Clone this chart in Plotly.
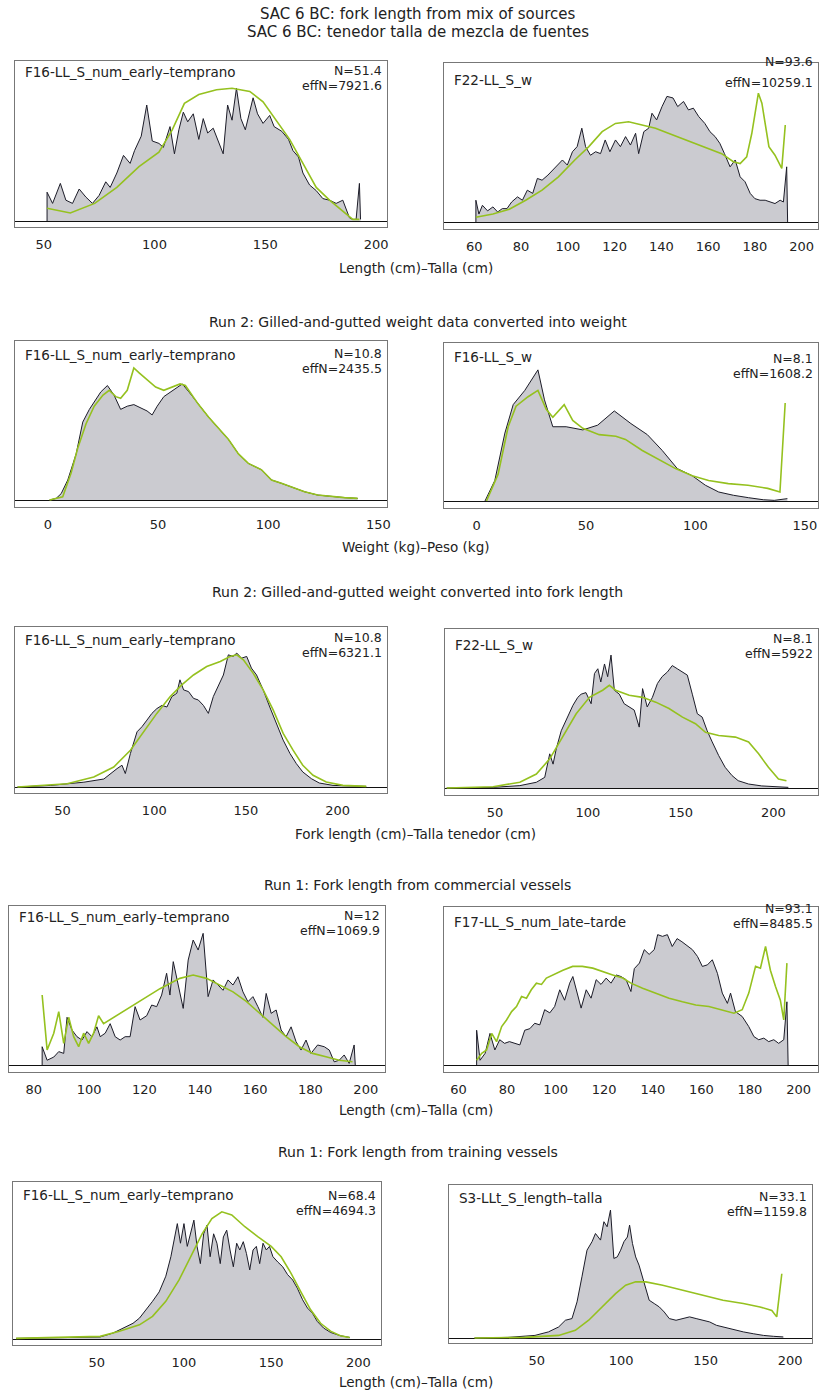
import plotly.graph_objects as go

# ---------------- DATA ----------------
# Panel 1: SAC 6 BC, F16-LL_S_num_early-temprano (length, cm)
p1_obs_x = [51.5, 51.5, 54, 57.5, 60, 63, 66, 69, 72, 75, 78, 80, 83, 86, 89, 91, 94, 96.5, 99, 102, 104, 107, 109, 111, 113, 115,
            117.5, 120, 122, 124, 126.5, 129, 131, 133, 135, 137, 139, 141, 144.5, 146.5, 149, 152, 154, 157.5, 160.5, 162.5,
            165, 167, 170, 173, 176, 179, 182, 185, 186.5, 188, 189.5, 191, 192.5, 193]
p1_obs_y = [0, 0.18, 0.11, 0.235, 0.13, 0.11, 0.20, 0.15, 0.11, 0.16, 0.245, 0.21, 0.30, 0.41, 0.36, 0.44, 0.53, 0.725, 0.50, 0.485,
            0.46, 0.59, 0.42, 0.57, 0.68, 0.62, 0.67, 0.51, 0.64, 0.55, 0.58, 0.485, 0.42, 0.725, 0.63, 0.83, 0.64, 0.57, 0.77,
            0.67, 0.61, 0.66, 0.59, 0.56, 0.51, 0.44, 0.40, 0.30, 0.225, 0.19, 0.14, 0.13, 0.11, 0.13, 0.07, 0.02, 0.01, 0.01,
            0.235, 0.01]
p1_exp_x = [51.5, 55, 62, 73, 83, 93, 102, 108, 113.5, 120, 128, 135, 143, 149, 155, 161, 167, 173, 179, 185, 189.5, 192.5]
p1_exp_y = [0.08, 0.07, 0.05, 0.11, 0.21, 0.34, 0.43, 0.57, 0.735, 0.79, 0.82, 0.83, 0.81, 0.745, 0.63, 0.51, 0.36, 0.21, 0.13,
            0.06, 0.01, 0.01]

# Panel 2: SAC 6 BC, F22-LL_S_w
p2_obs_x = [60.7, 60.7, 62, 63.5, 65.7, 68, 70, 72, 74, 76, 78.5, 80.6, 82.7, 85, 87, 89, 91.5, 93.4, 95.5, 97.7, 99.8, 102, 104,
            106, 107.6, 109.7, 111.9, 114, 116, 118, 120.4, 122.5, 124.7, 126.8, 129, 130.3, 132.5, 134.6, 136, 138, 140.3,
            142.4, 145, 147, 149.5, 151.6, 153.7, 156, 158.6, 160.8, 163, 165, 167, 169.4, 171.6, 173.7, 175.8, 178, 180,
            182.2, 184.4, 186.5, 188.6, 190.8, 192.2, 193.6, 194]
p2_obs_y = [0, 0.137, 0.05, 0.105, 0.07, 0.095, 0.063, 0.084, 0.084, 0.126, 0.158, 0.137, 0.2, 0.18, 0.274, 0.263, 0.295, 0.326,
            0.358, 0.39, 0.358, 0.442, 0.474, 0.59, 0.474, 0.42, 0.442, 0.43, 0.516, 0.442, 0.516, 0.474, 0.537, 0.484, 0.558,
            0.43, 0.568, 0.59, 0.684, 0.642, 0.726, 0.79, 0.78, 0.726, 0.758, 0.705, 0.716, 0.663, 0.62, 0.568, 0.537, 0.495,
            0.43, 0.347, 0.39, 0.284, 0.253, 0.18, 0.147, 0.137, 0.137, 0.126, 0.116, 0.137, 0.126, 0.347, 0]
p2_exp_x = [60.7, 68, 75, 82, 89, 96, 103, 109, 114.7, 120.4, 126, 132, 137.5, 143, 148.8, 154.5, 160, 165.8, 170.8, 173.7,
            176.5, 178.7, 181.5, 183, 186, 188.6, 191.5, 193]
p2_exp_y = [0.03, 0.05, 0.08, 0.137, 0.2, 0.284, 0.39, 0.474, 0.568, 0.62, 0.63, 0.61, 0.59, 0.558, 0.526, 0.495, 0.463, 0.43,
            0.379, 0.368, 0.41, 0.558, 0.81, 0.747, 0.474, 0.42, 0.337, 0.61]

# Panel 3: Run 2 weight, F16-LL_S_num_early-temprano (kg)
p3_obs_x = [0.7, 3.7, 6, 9, 12.8, 15.8, 18.8, 21.8, 24, 27, 30, 33, 36, 39, 42, 45, 47.3, 49.6, 52.6, 55.6, 58.6, 61, 64, 68.4,
            73, 77.5, 82, 86.5, 91, 97, 101.5, 106, 110.5, 116.5, 122.5, 128.6, 134.6, 140.6]
p3_obs_y = [0, 0.01, 0.04, 0.126, 0.29, 0.49, 0.57, 0.63, 0.68, 0.72, 0.66, 0.57, 0.59, 0.60, 0.58, 0.56, 0.535, 0.59, 0.65,
            0.68, 0.71, 0.73, 0.68, 0.60, 0.52, 0.45, 0.38, 0.29, 0.23, 0.19, 0.126, 0.105, 0.084, 0.052, 0.031, 0.021, 0.015,
            0.01]
p3_exp_x = [0.7, 6.7, 10.5, 13.5, 17.3, 21, 25, 27.8, 30.8, 33, 36, 39, 41.4, 45, 48.9, 52.6, 56.4, 60, 62.4, 68.4, 73, 77.5,
            82, 86.5, 91, 97, 101.5, 106, 110.5, 116.5, 122.5, 128.6, 134.6, 140.6]
p3_exp_y = [0, 0.02, 0.17, 0.325, 0.48, 0.59, 0.66, 0.69, 0.65, 0.64, 0.69, 0.83, 0.80, 0.755, 0.71, 0.69, 0.71, 0.73, 0.72,
            0.60, 0.52, 0.45, 0.38, 0.29, 0.23, 0.19, 0.126, 0.105, 0.084, 0.052, 0.031, 0.021, 0.015, 0.01]

# Panel 4: Run 2 weight, F16-LL_S_w
p4_obs_x = [3.8, 8.3, 12.9, 16.7, 22, 28, 31, 34.8, 40.9, 48.5, 55.3, 62.9, 70.5, 78, 84.8, 91.7, 98.5, 104.5, 110.6, 117.4,
            124.2, 131, 136, 142]
p4_obs_y = [0, 0.13, 0.43, 0.61, 0.70, 0.83, 0.64, 0.47, 0.47, 0.45, 0.48, 0.57, 0.49, 0.42, 0.32, 0.205, 0.16, 0.10, 0.057,
            0.036, 0.021, 0.008, 0.004, 0.015]
p4_exp_x = [4.5, 9.8, 14.4, 18, 23.5, 28, 31.8, 34.8, 40, 43.9, 48.5, 56, 63.6, 68, 75.7, 83.3, 90.9, 98.5, 106, 115, 124, 133,
            138.6, 141]
p4_exp_y = [0, 0.17, 0.47, 0.60, 0.66, 0.70, 0.58, 0.53, 0.61, 0.51, 0.46, 0.42, 0.41, 0.39, 0.32, 0.26, 0.205, 0.16, 0.13,
            0.11, 0.10, 0.08, 0.057, 0.62]

# Panel 5: Run 2 fork length, F16-LL_S_num_early-temprano
p5_obs_x = [25.4, 43.5, 61.6, 72.5, 79.7, 82.4, 84.2, 87, 90.6, 93.3, 96, 98.7, 101.4, 104.2, 106.9, 109.6, 112.3, 114, 116,
            118.7, 121.4, 124, 126.8, 129.5, 132.2, 135, 137.7, 140.4, 143, 145, 147.6, 150.4, 153, 155.8, 159.4, 163, 166.7,
            170.3, 174, 177.5, 181, 185.7, 190, 197.5, 215.6]
p5_obs_y = [0, 0.01, 0.03, 0.05, 0.115, 0.136, 0.084, 0.21, 0.345, 0.377, 0.418, 0.46, 0.49, 0.51, 0.50, 0.565, 0.586, 0.67,
            0.607, 0.596, 0.554, 0.544, 0.51, 0.46, 0.565, 0.63, 0.70, 0.826, 0.816, 0.837, 0.805, 0.816, 0.743, 0.70, 0.607,
            0.50, 0.397, 0.293, 0.21, 0.146, 0.094, 0.052, 0.025, 0.01, 0.004]
p5_exp_x = [25.4, 52.5, 67, 77.9, 87, 94.2, 101.4, 108.7, 115, 121.4, 128.6, 136, 141.3, 145, 148.6, 154, 159.4, 164.9, 170.3,
            175.7, 181, 186.6, 193.8, 202.9, 215.6]
p5_exp_y = [0, 0.02, 0.063, 0.125, 0.23, 0.345, 0.46, 0.565, 0.638, 0.70, 0.753, 0.785, 0.816, 0.826, 0.795, 0.71, 0.607, 0.48,
            0.335, 0.23, 0.136, 0.073, 0.031, 0.01, 0.004]

# Panel 6: Run 2 fork length, F22-LL_S_w
p6_obs_x = [24, 49, 63.4, 72.3, 76.8, 79.5, 81.3, 83, 85.7, 89.3, 92, 94.6, 96.4, 99, 101.8, 103.6, 105.4, 107, 109, 110.7,
            112.5, 114.3, 117, 119.6, 122.3, 125, 127.7, 129.5, 132, 134.8, 137.5, 140, 142.9, 145.5, 148.2, 151, 153.6, 156.3,
            159, 161.6, 164.3, 167, 170.5, 174, 177.7, 181, 186.6, 193.7, 200.9, 208]
p6_obs_y = [0, 0.004, 0.015, 0.036, 0.067, 0.215, 0.15, 0.246, 0.36, 0.446, 0.52, 0.57, 0.59, 0.60, 0.53, 0.72, 0.75, 0.667,
            0.78, 0.70, 0.836, 0.615, 0.59, 0.53, 0.51, 0.49, 0.383, 0.625, 0.51, 0.57, 0.657, 0.70, 0.73, 0.77, 0.75, 0.73,
            0.71, 0.59, 0.467, 0.446, 0.36, 0.29, 0.204, 0.13, 0.078, 0.046, 0.025, 0.013, 0.008, 0.004]
p6_exp_x = [24, 49, 63.4, 72.3, 79.5, 86.6, 93.75, 100.9, 108, 111.6, 115, 122.3, 129.5, 136.6, 143.75, 151, 158, 163.4, 170.5,
            179.5, 186.6, 192, 197.3, 202.7, 207]
p6_exp_y = [0, 0.008, 0.036, 0.088, 0.183, 0.32, 0.467, 0.57, 0.615, 0.646, 0.615, 0.583, 0.57, 0.54, 0.50, 0.446, 0.404, 0.35,
            0.33, 0.32, 0.29, 0.215, 0.13, 0.057, 0.046]

# Panel 7: Run 1 commercial, F16-LL_S_num_early-temprano
p7_obs_x = [83, 83, 84.8, 87.2, 89, 90.8, 92, 93.8, 95.6, 97.4, 99.2, 101, 102.8, 104, 105.8, 107.6, 109.4, 111.2, 113, 114.8,
            116.6, 118.4, 120.8, 122.6, 124.4, 126.2, 128, 129.2, 130.4, 132.2, 134, 135.8, 137.6, 139.4, 141.2, 143, 144.8,
            146.6, 148.4, 150.2, 152, 153.8, 155.6, 157.4, 159.2, 161, 162.8, 164, 165.8, 167.6, 169.4, 171.2, 173, 174.8,
            176.6, 178.4, 180.2, 182.6, 185, 186.8, 188.6, 190.4, 192.2, 194, 195.8, 196.2]
p7_obs_y = [0, 0.115, 0.03, 0.05, 0.084, 0.073, 0.30, 0.22, 0.178, 0.157, 0.21, 0.178, 0.24, 0.178, 0.20, 0.26, 0.178, 0.157,
            0.178, 0.178, 0.367, 0.283, 0.31, 0.377, 0.367, 0.44, 0.577, 0.44, 0.65, 0.493, 0.356, 0.66, 0.786, 0.723, 0.828,
            0.43, 0.535, 0.503, 0.47, 0.535, 0.503, 0.555, 0.46, 0.398, 0.43, 0.367, 0.30, 0.45, 0.325, 0.346, 0.22, 0.178,
            0.24, 0.147, 0.094, 0.157, 0.073, 0.126, 0.115, 0.094, 0.02, 0.03, 0.063, 0.01, 0.126, 0]
p7_exp_x = [83, 84.8, 87.2, 89, 90.8, 92.6, 94.4, 96.2, 98, 99.8, 101.6, 103.4, 105.2, 111.2, 118.4, 125.6, 132.8, 137.6, 142.4,
            147.2, 152, 156.8, 161.6, 166.4, 171.2, 176, 180.8, 185.6, 190.4, 195.2]
p7_exp_y = [0.44, 0.094, 0.20, 0.335, 0.136, 0.30, 0.178, 0.115, 0.20, 0.136, 0.20, 0.31, 0.26, 0.325, 0.40, 0.48, 0.545, 0.566,
            0.545, 0.503, 0.46, 0.40, 0.325, 0.25, 0.178, 0.115, 0.073, 0.052, 0.03, 0.02]

# Panel 8: Run 1 commercial, F17-LL_S_num_late-tarde
p8_obs_x = [67.5, 67.5, 68.9, 71, 73, 75, 77, 79, 81, 83.2, 85.3, 87.3, 89.4, 91.4, 93.5, 95.5, 97.6, 99.6, 101.7, 103.7, 105.8,
            107.1, 108.5, 110.5, 112.6, 114.6, 116.7, 118.7, 120.8, 122.8, 124.9, 126.9, 129, 131, 132.4, 134.5, 136.5, 138.5,
            140.6, 142, 144, 146, 148, 150, 152, 154.3, 156.3, 158.4, 160.4, 162.5, 164.5, 166.6, 168.6, 170.7, 172, 174,
            176.8, 179.5, 181.6, 183.6, 185.7, 187.7, 189.8, 191.8, 193.9, 195.2, 195.7]
p8_obs_y = [0, 0.22, 0.03, 0.074, 0.20, 0.095, 0.16, 0.137, 0.148, 0.137, 0.127, 0.22, 0.23, 0.264, 0.254, 0.35, 0.33, 0.37,
            0.476, 0.41, 0.518, 0.56, 0.476, 0.36, 0.476, 0.423, 0.54, 0.51, 0.55, 0.518, 0.57, 0.56, 0.54, 0.465, 0.61, 0.645,
            0.73, 0.70, 0.73, 0.825, 0.814, 0.825, 0.75, 0.80, 0.78, 0.75, 0.73, 0.687, 0.624, 0.634, 0.666, 0.58, 0.455, 0.39,
            0.455, 0.338, 0.307, 0.243, 0.18, 0.16, 0.17, 0.148, 0.16, 0.137, 0.16, 0.40, 0]
p8_exp_x = [67.5, 69.6, 71.6, 73.7, 75.7, 77.8, 79.8, 81.9, 83.9, 86, 88, 90, 92.1, 94.2, 96.2, 98.9, 103, 107, 111, 115.3,
            119.4, 123.5, 127.6, 131, 135.8, 141.3, 146.7, 152.2, 157.7, 163.1, 168.6, 173.4, 176.8, 179.5, 182.3, 184.3,
            186.4, 188.4, 190.5, 192.5, 193.9, 195.2]
p8_exp_y = [0.03, 0.074, 0.095, 0.20, 0.148, 0.243, 0.285, 0.338, 0.37, 0.433, 0.423, 0.476, 0.518, 0.51, 0.55, 0.57, 0.60,
            0.624, 0.624, 0.613, 0.59, 0.57, 0.55, 0.518, 0.486, 0.455, 0.423, 0.40, 0.38, 0.37, 0.35, 0.328, 0.35, 0.455,
            0.624, 0.613, 0.75, 0.60, 0.497, 0.41, 0.285, 0.645]

# Panel 9: Run 1 training, F16-LL_S_num_early-temprano
p9_obs_x = [3.8, 33, 52, 59.4, 65, 70.8, 74.5, 78.3, 82, 85.8, 89.6, 92.5, 94.3, 96.2, 98, 100, 101.9, 103.8, 105.7, 107.5,
            109.4, 111.3, 113.2, 115, 117, 118.9, 120.8, 122.6, 124.5, 126.4, 128.3, 130.2, 132, 134, 135.8, 137.7, 139.6,
            141.5, 143.4, 145.3, 147.2, 149, 151, 153.8, 156.6, 159.4, 162.3, 165, 168, 170.8, 173.6, 176.4, 180, 184, 189.6,
            195]
p9_obs_y = [0.004, 0.008, 0.013, 0.038, 0.07, 0.10, 0.133, 0.186, 0.24, 0.30, 0.40, 0.524, 0.63, 0.735, 0.61, 0.735, 0.59,
            0.67, 0.757, 0.59, 0.48, 0.67, 0.725, 0.524, 0.67, 0.61, 0.48, 0.65, 0.693, 0.567, 0.46, 0.61, 0.567, 0.62, 0.545,
            0.44, 0.567, 0.59, 0.48, 0.61, 0.567, 0.59, 0.524, 0.49, 0.46, 0.41, 0.376, 0.323, 0.25, 0.197, 0.165, 0.112, 0.07,
            0.042, 0.021, 0.01]
p9_exp_x = [3.8, 33, 52, 63, 74.5, 82, 89.6, 97.2, 104.7, 110.4, 116, 121.7, 127.4, 134.9, 142.5, 150, 155.7, 161.3, 167,
            172.6, 178.3, 184, 189.6, 195]
p9_exp_y = [0.004, 0.013, 0.017, 0.05, 0.09, 0.144, 0.24, 0.376, 0.545, 0.67, 0.767, 0.81, 0.79, 0.715, 0.65, 0.59, 0.524,
            0.42, 0.30, 0.186, 0.10, 0.05, 0.021, 0.01]

# Panel 10: Run 1 training, S3-LLt_S_length-talla
p10_obs_x = [13.2, 33, 49, 57, 63, 67, 70.9, 73.9, 76.8, 79.8, 82.8, 84.8, 87.8, 89.8, 91.7, 93.7, 95.7, 97.7, 99.7, 101.7,
             103.7, 105, 106.7, 108.6, 110.6, 112.6, 114.6, 116.6, 119.6, 122.6, 125.5, 128.5, 132.5, 136.5, 140.5, 144.4,
             148.4, 152.4, 156.4, 160.3, 164.3, 168.3, 172.3, 178.2, 184.2, 190.2, 196]
p10_obs_y = [0, 0.004, 0.017, 0.04, 0.072, 0.116, 0.127, 0.236, 0.40, 0.574, 0.63, 0.683, 0.64, 0.76, 0.727, 0.836, 0.52, 0.53,
             0.574, 0.63, 0.66, 0.738, 0.618, 0.53, 0.476, 0.40, 0.334, 0.247, 0.225, 0.203, 0.17, 0.127, 0.116, 0.127, 0.138,
             0.127, 0.116, 0.105, 0.083, 0.072, 0.061, 0.05, 0.04, 0.028, 0.017, 0.011, 0.007]
p10_exp_x = [13.2, 43, 63, 72.9, 80.8, 88.8, 96.7, 102.7, 108.6, 114.6, 124.6, 136.5, 148.4, 160.3, 172.3, 182.2, 189.2, 192.1,
             195.1]
p10_exp_y = [0, 0.004, 0.017, 0.05, 0.116, 0.203, 0.29, 0.345, 0.367, 0.367, 0.345, 0.312, 0.28, 0.247, 0.225, 0.203, 0.18,
             0.138, 0.42]

# Text
panel_labels = ["F16-LL_S_num_early–temprano", "F22-LL_S_w",
                "F16-LL_S_num_early–temprano", "F16-LL_S_w",
                "F16-LL_S_num_early–temprano", "F22-LL_S_w",
                "F16-LL_S_num_early–temprano", "F17-LL_S_num_late–tarde",
                "F16-LL_S_num_early–temprano", "S3-LLt_S_length–talla"]
n_labels = ["N=51.4", "N=93.6", "N=10.8", "N=8.1", "N=10.8", "N=8.1", "N=12", "N=93.1", "N=68.4", "N=33.1"]
effn_labels = ["effN=7921.6", "effN=10259.1", "effN=2435.5", "effN=1608.2", "effN=6321.1", "effN=5922",
               "effN=1069.9", "effN=8485.5", "effN=4694.3", "effN=1159.8"]
tick_sets = [[50, 100, 150, 200], [60, 80, 100, 120, 140, 160, 180, 200],
             [0, 50, 100, 150], [0, 50, 100, 150],
             [50, 100, 150, 200], [50, 100, 150, 200],
             [80, 100, 120, 140, 160, 180, 200], [60, 80, 100, 120, 140, 160, 180, 200],
             [50, 100, 150, 200], [50, 100, 150, 200]]
x_ranges = [(37, 205), (47, 207), (-15, 154), (-15, 156), (24, 227), (23, 224), (71, 207), (54, 208), (2, 213), (-2, 213)]

titles = [("SAC 6 BC: fork length from mix of sources", 14, 15),
          ("SAC 6 BC: tenedor talla de mezcla de fuentes", 32, 15),
          ("Run 2: Gilled-and-gutted weight data converted into weight", 322, 14),
          ("Run 2: Gilled-and-gutted weight converted into fork length", 592, 14),
          ("Run 1: Fork length from commercial vessels", 885, 14),
          ("Run 1: Fork length from training vessels", 1152, 14)]
axis_titles = [("Length (cm)–Talla (cm)", 268), ("Weight (kg)–Peso (kg)", 547),
               ("Fork length (cm)–Talla tenedor (cm)", 834), ("Length (cm)–Talla (cm)", 1110),
               ("Length (cm)–Talla (cm)", 1382)]

obs_x = [p1_obs_x, p2_obs_x, p3_obs_x, p4_obs_x, p5_obs_x, p6_obs_x, p7_obs_x, p8_obs_x, p9_obs_x, p10_obs_x]
obs_y = [p1_obs_y, p2_obs_y, p3_obs_y, p4_obs_y, p5_obs_y, p6_obs_y, p7_obs_y, p8_obs_y, p9_obs_y, p10_obs_y]
exp_x = [p1_exp_x, p2_exp_x, p3_exp_x, p4_exp_x, p5_exp_x, p6_exp_x, p7_exp_x, p8_exp_x, p9_exp_x, p10_exp_x]
exp_y = [p1_exp_y, p2_exp_y, p3_exp_y, p4_exp_y, p5_exp_y, p6_exp_y, p7_exp_y, p8_exp_y, p9_exp_y, p10_exp_y]

# ---------------- LAYOUT (pixel geometry of the page) ----------------
W, H = 825, 1394
# box (left, top, right, bottom), y of zero line, label dy, N dy, effN dy
geom = [
    ((15, 61, 389, 227), 221, 11, 10, 25),
    ((446, 63, 822, 229), 222, 17, -1, 19),
    ((15, 341, 389, 507), 500, 14, 13, 28),
    ((446, 343, 822, 508), 501, 14, 15, 30),
    ((15, 627, 389, 793), 787, 13, 10, 25),
    ((447, 629, 822, 795), 788, 16, 9, 24),
    ((9, 906, 387, 1072), 1065, 11, 9, 24),
    ((446, 907, 822, 1072), 1065, 15, 1, 16),
    ((13, 1182, 383, 1345), 1339, 13, 13, 28),
    ((451, 1185, 816, 1343), 1338, 13, 11, 26),
]

FONT = "DejaVu Sans"
TXT = "#222222"
FILL = "#cbcbd0"
OBS = "#1c1c28"
EXP = "#95c11f"

def py(v):
    return 1 - v / H

fig = go.Figure()
layout = dict(width=W, height=H, margin=dict(l=0, r=0, t=0, b=0), paper_bgcolor="white",
              plot_bgcolor="white", showlegend=False, font=dict(family=FONT, color=TXT))
annotations = []

for i in range(10):
    (x0, y0, x1, y1), yz, ldy, ndy, edy = geom[i]
    sfx = "" if i == 0 else str(i + 1)
    ax_x, ax_y = "x" + sfx, "y" + sfx
    fig.add_trace(go.Scatter(x=obs_x[i], y=obs_y[i], mode="lines", fill="tozeroy", fillcolor=FILL,
                             line=dict(color=OBS, width=1), xaxis=ax_x, yaxis=ax_y, hoverinfo="skip"))
    fig.add_trace(go.Scatter(x=exp_x[i], y=exp_y[i], mode="lines",
                             line=dict(color=EXP, width=1.6), xaxis=ax_x, yaxis=ax_y, hoverinfo="skip"))
    ylo = -(y1 - yz) / (yz - y0)
    layout["xaxis" + sfx] = dict(domain=[x0 / W, x1 / W], range=list(x_ranges[i]), anchor=ax_y,
                                 showline=True, mirror=True, linecolor="#777777", linewidth=1,
                                 showgrid=False, zeroline=False, ticks="", tickvals=tick_sets[i],
                                 tickfont=dict(family=FONT, size=13, color=TXT), ticklabelstandoff=5)
    layout["yaxis" + sfx] = dict(domain=[py(y1), py(y0)], range=[ylo, 1.0], anchor=ax_x,
                                 showline=True, mirror=True, linecolor="#777777", linewidth=1,
                                 showgrid=False, showticklabels=False, ticks="",
                                 zeroline=True, zerolinecolor="#111111", zerolinewidth=1.2)
    annotations.append(dict(text=panel_labels[i], xref="paper", yref="paper", x=(x0 + 8) / W, y=py(y0 + ldy),
                            xanchor="left", yanchor="middle", showarrow=False,
                            font=dict(family=FONT, size=13.5, color=TXT)))
    annotations.append(dict(text=n_labels[i], xref="paper", yref="paper", x=(x1 - 3) / W, y=py(y0 + ndy),
                            xanchor="right", yanchor="middle", showarrow=False,
                            font=dict(family=FONT, size=12.5, color=TXT)))
    annotations.append(dict(text=effn_labels[i], xref="paper", yref="paper", x=(x1 - 3) / W, y=py(y0 + edy),
                            xanchor="right", yanchor="middle", showarrow=False,
                            font=dict(family=FONT, size=12.5, color=TXT)))

for txt, yy, fs in titles:
    annotations.append(dict(text=txt, xref="paper", yref="paper", x=420 / W, y=py(yy), xanchor="center",
                            yanchor="middle", showarrow=False, font=dict(family=FONT, size=fs, color=TXT)))
for txt, yy in axis_titles:
    annotations.append(dict(text=txt, xref="paper", yref="paper", x=418 / W, y=py(yy), xanchor="center",
                            yanchor="middle", showarrow=False, font=dict(family=FONT, size=13.5, color=TXT)))

layout["annotations"] = annotations
fig.update_layout(**layout)
fig.write_html("out.html")
